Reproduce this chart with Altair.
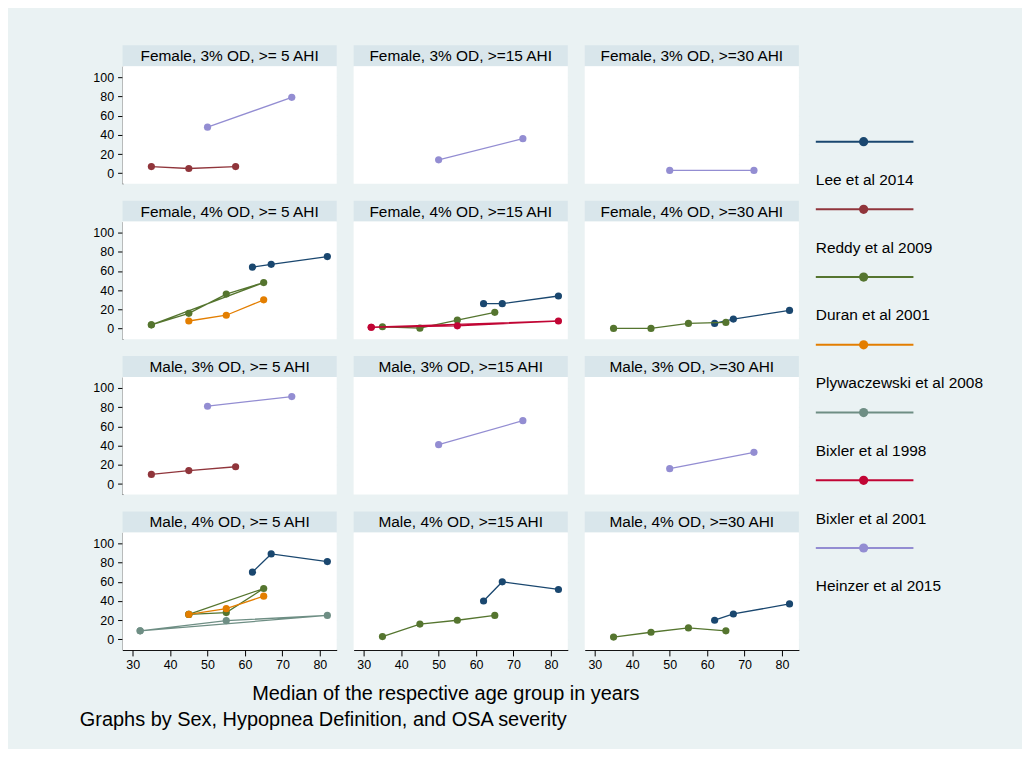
import altair as alt
import pandas as pd

FONT = "Liberation Sans"
BG = "#EAF2F3"
HEADER_BG = "#D9E6EB"
GRID = "#E6EEF0"

STUDIES = ["Lee et al 2014", "Reddy et al 2009", "Duran et al 2001",
           "Plywaczewski et al 2008", "Bixler et al 1998", "Bixler et al 2001",
           "Heinzer et al 2015"]
COLORS = ["#1A476F", "#90353B", "#55752F", "#E37E00", "#6E8E84", "#C10534", "#938DD2"]

PANEL_TITLES = [
    "Female, 3% OD, >= 5 AHI", "Female, 3% OD, >=15 AHI", "Female, 3% OD, >=30 AHI",
    "Female, 4% OD, >= 5 AHI", "Female, 4% OD, >=15 AHI", "Female, 4% OD, >=30 AHI",
    "Male, 3% OD, >= 5 AHI", "Male, 3% OD, >=15 AHI", "Male, 3% OD, >=30 AHI",
    "Male, 4% OD, >= 5 AHI", "Male, 4% OD, >=15 AHI", "Male, 4% OD, >=30 AHI",
]
X_TICKS = [30, 40, 50, 60, 70, 80]
Y_TICKS = [0, 20, 40, 60, 80, 100]
X_TITLE = "Median of the respective age group in years"
NOTE = "Graphs by Sex, Hypopnea Definition, and OSA severity"

# (median age, prevalence %) pairs, in plotting order
F3_5_REDDY = [(35, 7), (45, 5), (57.5, 7)]
F3_5_HEINZER = [(50, 48), (72.5, 79)]
F3_15_HEINZER = [(50, 14), (72.5, 36)]
F3_30_HEINZER = [(50, 3), (72.5, 3)]
F4_5_LEE = [(62, 64), (67, 67), (82, 75)]
F4_5_DURAN = [(35, 4), (45, 16), (55, 36), (65, 48), (35, 4)]
F4_5_PLY = [(45, 8), (55, 14), (65, 30)]
F4_15_LEE = [(62, 26), (67, 26), (82, 34)]
F4_15_DURAN = [(35, 2), (45, 0.5), (55, 9), (65, 17)]
F4_15_BIXLER01 = [(32, 1.5), (55, 3), (82, 8), (32, 1.5)]
F4_30_LEE = [(62, 5.5), (67, 10), (82, 19)]
F4_30_DURAN = [(35, 0.3), (45, 0.3), (55, 5.5), (65, 6.5)]
M3_5_REDDY = [(35, 10), (45, 14), (57.5, 18)]
M3_5_HEINZER = [(50, 81), (72.5, 91)]
M3_15_HEINZER = [(50, 41), (72.5, 66)]
M3_30_HEINZER = [(50, 16), (72.5, 33)]
M4_5_LEE = [(62, 70), (67, 89), (82, 81)]
M4_5_DURAN = [(45, 26), (55, 28), (65, 53), (45, 26)]
M4_5_PLY = [(45, 26), (55, 32), (65, 45)]
M4_5_BIXLER98 = [(32, 9), (55, 19.5), (82, 25), (32, 9)]
M4_15_LEE = [(62, 40), (67, 60), (82, 52)]
M4_15_DURAN = [(35, 3), (45, 16), (55, 20), (65, 25)]
M4_30_LEE = [(62, 20), (67, 26.5), (82, 37)]
M4_30_DURAN = [(35, 2.5), (45, 7.5), (55, 12), (65, 9)]

PANEL_SERIES = [
    [("Reddy et al 2009", F3_5_REDDY), ("Heinzer et al 2015", F3_5_HEINZER)],
    [("Heinzer et al 2015", F3_15_HEINZER)],
    [("Heinzer et al 2015", F3_30_HEINZER)],
    [("Lee et al 2014", F4_5_LEE), ("Duran et al 2001", F4_5_DURAN),
     ("Plywaczewski et al 2008", F4_5_PLY)],
    [("Lee et al 2014", F4_15_LEE), ("Duran et al 2001", F4_15_DURAN),
     ("Bixler et al 2001", F4_15_BIXLER01)],
    [("Lee et al 2014", F4_30_LEE), ("Duran et al 2001", F4_30_DURAN)],
    [("Reddy et al 2009", M3_5_REDDY), ("Heinzer et al 2015", M3_5_HEINZER)],
    [("Heinzer et al 2015", M3_15_HEINZER)],
    [("Heinzer et al 2015", M3_30_HEINZER)],
    [("Lee et al 2014", M4_5_LEE), ("Duran et al 2001", M4_5_DURAN),
     ("Plywaczewski et al 2008", M4_5_PLY), ("Bixler et al 1998", M4_5_BIXLER98)],
    [("Lee et al 2014", M4_15_LEE), ("Duran et al 2001", M4_15_DURAN)],
    [("Lee et al 2014", M4_30_LEE), ("Duran et al 2001", M4_30_DURAN)],
]

PW, PH, HH = 215, 118, 21
COLOR_OF = dict(zip(STUDIES, COLORS))
NOVIEW = alt.ViewBackground(fill=None, stroke=None, strokeWidth=0)


def header(title):
    base = alt.Chart(pd.DataFrame({"t": [title]}))
    rect = base.mark_rect(color=HEADER_BG).encode(
        x=alt.value(0), x2=alt.value(PW), y=alt.value(0), y2=alt.value(HH))
    txt = base.mark_text(fontSize=15.5, font=FONT, color="black", baseline="middle").encode(
        x=alt.value(PW / 2), y=alt.value(HH / 2 + 0.5), text="t:N")
    return alt.layer(rect, txt).properties(width=PW, height=HH, view=NOVIEW)


def plot(r, c, series):
    xs = alt.Scale(domain=[27.3, 84.5], nice=False, zero=False)
    ys = alt.Scale(domain=[-10.9, 111.4], nice=False, zero=False)
    if r == 3:
        xaxis = alt.Axis(values=X_TICKS, grid=False, title=None, tickSize=6,
                         labelPadding=3, labelFontSize=12.5)
    else:
        xaxis = None
    if c == 0:
        yaxis = alt.Axis(values=Y_TICKS, grid=True, title=None, tickSize=5,
                         labelPadding=4, labelFontSize=12.5)
    else:
        yaxis = alt.Axis(values=Y_TICKS, grid=True, title=None, labels=False,
                         ticks=False, domain=False)
    first = pd.DataFrame({"k": [0]})
    bgrect = alt.Chart(first).mark_rect(color="white", strokeWidth=0).encode(
        x=alt.value(0), x2=alt.value(PW), y=alt.value(0), y2=alt.value(PH))
    layers = [bgrect]
    for study, pts in series:
        df = pd.DataFrame({"age": [p[0] for p in pts], "pct": [p[1] for p in pts],
                           "seq": list(range(len(pts)))})
        base = alt.Chart(df).encode(
            x=alt.X("age:Q", scale=xs, axis=xaxis),
            y=alt.Y("pct:Q", scale=ys, axis=yaxis))
        col = COLOR_OF[study]
        layers.append(base.mark_line(color=col, strokeWidth=1.3).encode(order="seq:Q"))
        layers.append(base.mark_circle(color=col, size=52, opacity=1))
    return alt.layer(*layers).properties(width=PW, height=PH, view=NOVIEW)


rows = []
for r in range(4):
    cells = []
    for c in range(3):
        k = r * 3 + c
        cells.append(alt.vconcat(header(PANEL_TITLES[k]), plot(r, c, PANEL_SERIES[k]),
                                 spacing=0))
    rows.append(alt.hconcat(*cells, spacing=17))

grid = alt.vconcat(*rows, spacing=17, title=alt.TitleParams(
    X_TITLE, orient="bottom", anchor="middle", fontSize=20, font=FONT,
    fontWeight="normal", color="black", offset=13))

leg_df = pd.DataFrame({"study": STUDIES, "i": list(range(len(STUDIES)))})
LH = 560
ly = alt.Y("i:Q", axis=None,
           scale=alt.Scale(domain=[-96.7 / 68, (LH - 96.7) / 68], reverse=True,
                           nice=False, zero=False))
lc = alt.Color("study:N", scale=alt.Scale(domain=STUDIES, range=COLORS), legend=None)
lbase = alt.Chart(leg_df).encode(y=ly)
leg = alt.layer(
    lbase.mark_rule(strokeWidth=2).encode(x=alt.value(0), x2=alt.value(98), color=lc),
    lbase.mark_circle(size=85, opacity=1).encode(x=alt.value(48), color=lc),
    lbase.mark_text(align="left", baseline="middle", dy=38.5, fontSize=15.5, font=FONT,
                    color="black").encode(x=alt.value(0), text="study:N"),
).properties(width=200, height=LH, view=NOVIEW)

chart = alt.hconcat(grid, leg, spacing=16, title=alt.TitleParams(
    NOTE, orient="bottom", anchor="start", fontSize=20, font=FONT, fontWeight="normal",
    color="black", dx=-13, offset=6)).properties(
    padding={"left": 72, "top": 36, "right": 7, "bottom": 17}
).configure(background=BG).configure_view(stroke=None, strokeWidth=0).configure_axis(
    labelFont=FONT, labelColor="black", domainColor="black", tickColor="black",
    gridColor=GRID, gridWidth=1, domainWidth=1, tickWidth=1)

chart.save("out.html", embed_options={"renderer": "svg", "actions": False})
